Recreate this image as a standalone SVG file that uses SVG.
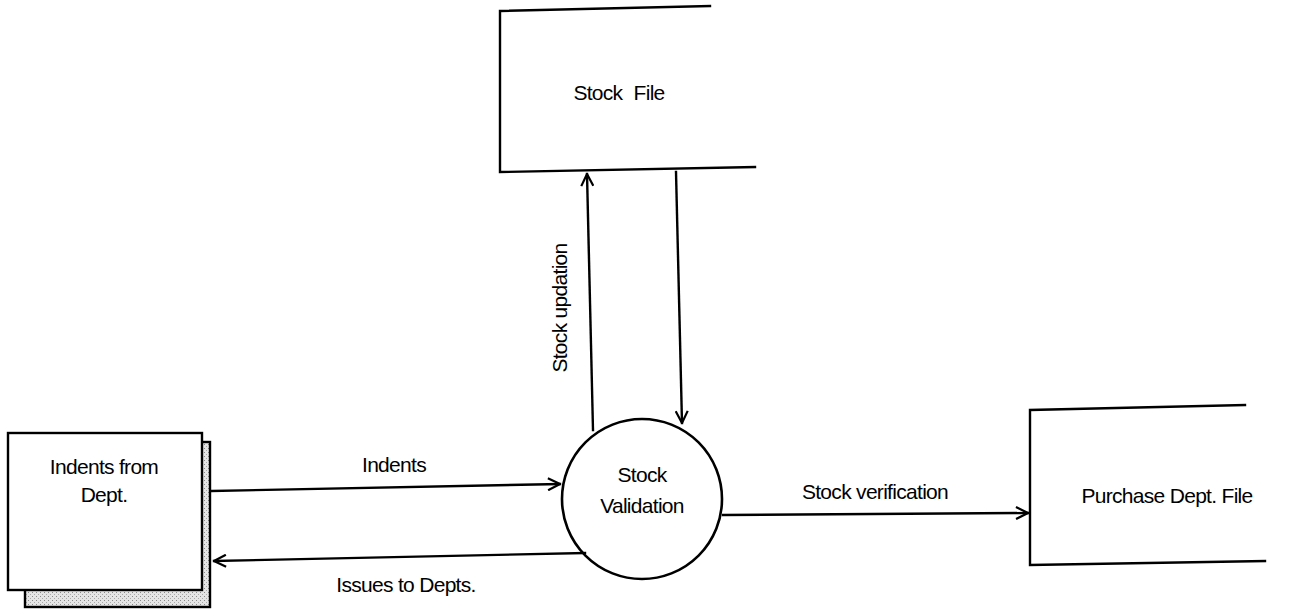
<svg xmlns="http://www.w3.org/2000/svg" width="1290" height="614" viewBox="0 0 1290 614">
<style>
.ln{fill:none;stroke:#000;stroke-width:2.4;stroke-linecap:square}
.t{font-family:"Liberation Sans",Arial,sans-serif;font-size:21px;fill:#000;letter-spacing:-0.7px}
</style>
<defs>
<marker id="ah" viewBox="0 0 14 14" refX="13" refY="7" markerWidth="14" markerHeight="14" markerUnits="userSpaceOnUse" orient="auto">
<path d="M1,1 L13,7 L1,13" fill="none" stroke="#000" stroke-width="2.2"/>
</marker>
<pattern id="dots" width="4" height="4" patternUnits="userSpaceOnUse">
<rect width="4" height="4" fill="#e4e4e4"/>
<rect x="0" y="0" width="1" height="1" fill="#888"/>
<rect x="2" y="2" width="1" height="1" fill="#aaa"/>
</pattern>
</defs>
<rect width="1290" height="614" fill="#fff"/>
<g id="stock-file">
<path class="ln" d="M710,6 L500,11 L500,172 L755,167"/>
<text class="t" x="619" y="100" text-anchor="middle">Stock <tspan dx="6">File</tspan></text>
</g>
<g id="indents-from-dept">
<rect x="25" y="442" width="185" height="165" fill="url(#dots)" stroke="#000" stroke-width="2.4"/>
<rect x="8" y="433" width="194" height="157" fill="#fff" stroke="#000" stroke-width="2.4"/>
<text class="t" x="104" y="474" text-anchor="middle">Indents from</text>
<text class="t" x="104" y="502" text-anchor="middle">Dept.</text>
</g>
<g id="stock-validation">
<circle cx="642" cy="499" r="80" fill="#fff" stroke="#000" stroke-width="2.6"/>
<text class="t" x="642" y="482" text-anchor="middle">Stock</text>
<text class="t" x="642" y="513" text-anchor="middle">Validation</text>
</g>
<g id="purchase-dept-file">
<path class="ln" d="M1245,405 L1030,410 L1030,565 L1265,561"/>
<text class="t" x="1167" y="503" text-anchor="middle">Purchase Dept. File</text>
</g>
<g id="connectors">
<path class="ln" d="M593,430 L587,174" marker-end="url(#ah)"/>
<path class="ln" d="M676,172 L682,423" marker-end="url(#ah)"/>
<path class="ln" d="M212,491 L560,484" marker-end="url(#ah)"/>
<path class="ln" d="M585,553 L214,561" marker-end="url(#ah)"/>
<path class="ln" d="M723,515 L1028,513" marker-end="url(#ah)"/>
<text class="t" x="567" y="308" text-anchor="middle" transform="rotate(-90 567 308)">Stock updation</text>
<text class="t" x="394" y="472" text-anchor="middle">Indents</text>
<text class="t" x="406" y="592" text-anchor="middle">Issues to Depts.</text>
<text class="t" x="875" y="499" text-anchor="middle">Stock verification</text>
</g>
</svg>
